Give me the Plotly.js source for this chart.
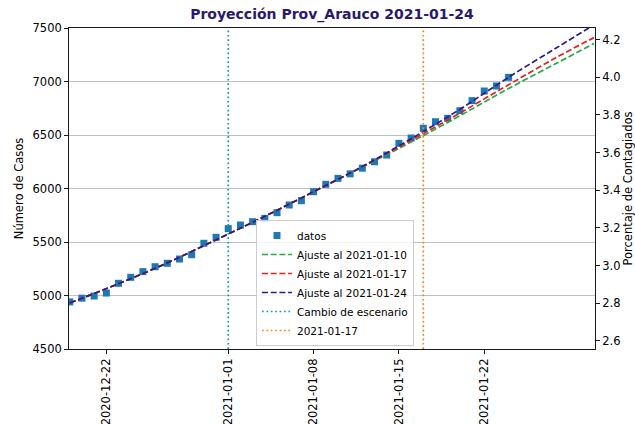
<!DOCTYPE html>
<html><head><meta charset="utf-8">
<script src="https://cdn.plot.ly/plotly-3.0.1.min.js"></script>
<style>html,body{margin:0;padding:0;background:#fff}#chart{width:635px;height:424px}</style>
</head><body><div id="chart"></div>
<script>
// observed cumulative cases
const dates = ['2020-12-19','2020-12-20','2020-12-21','2020-12-22','2020-12-23','2020-12-24','2020-12-25','2020-12-26','2020-12-27','2020-12-28','2020-12-29','2020-12-30','2020-12-31',
  '2021-01-01','2021-01-02','2021-01-03','2021-01-04','2021-01-05','2021-01-06','2021-01-07','2021-01-08','2021-01-09','2021-01-10','2021-01-11','2021-01-12','2021-01-13','2021-01-14','2021-01-15','2021-01-16','2021-01-17','2021-01-18','2021-01-19','2021-01-20','2021-01-21','2021-01-22','2021-01-23','2021-01-24'];
const cases = [4940,4975,4995,5023,5114,5170,5223,5269,5301,5341,5381,5488,5544,
  5625,5659,5690,5721,5774,5846,5886,5970,6039,6095,6137,6190,6250,6313,6422,6472,6563,6624,6656,6727,6821,6911,6958,7039];

// fitted projections
const fitDates = ['2020-12-19','2020-12-23','2020-12-27','2020-12-31','2021-01-04','2021-01-08','2021-01-12','2021-01-16','2021-01-20','2021-01-24','2021-01-28','2021-01-31'];
const fit0110 = [4930,5110,5305,5520,5740,5970,6200,6435,6680,6935,7175,7355];
const fit0117 = [4930,5110,5305,5520,5740,5970,6205,6450,6705,6970,7230,7410];
const fit0124 = [4930,5110,5305,5520,5740,5970,6205,6465,6740,7040,7320,7530];

const changeDate = '2021-01-01';
const refDate = '2021-01-17';
const seriesNames = ['datos','Ajuste al 2021-01-10','Ajuste al 2021-01-17','Ajuste al 2021-01-24','Cambio de escenario','2021-01-17'];

const xTickVals = ['2020-12-22','2021-01-01','2021-01-08','2021-01-15','2021-01-22'];
const xTickText = ['2020-12-22','2021-01-01','2021-01-08','2021-01-15','2021-01-22'];
const yTicks = [4500,5000,5500,6000,6500,7000,7500];
const y2Ticks = [2.6,2.8,3.0,3.2,3.4,3.6,3.8,4.0,4.2];
const population = 176000;
const yRange = [4500,7500];

const FONT = 'DejaVu Sans, Liberation Sans, sans-serif';
const y2Range = yRange.map(v => v / population * 100);

const traces = [
  {x: dates, y: cases, name: seriesNames[0], type: 'scatter', mode: 'markers',
   marker: {symbol: 'square', size: 7, color: '#1f77b4'}},
  {x: fitDates, y: fit0110, name: seriesNames[1], type: 'scatter', mode: 'lines',
   line: {color: '#22aa44', width: 1.7, dash: '6px,2.7px', shape: 'spline'}},
  {x: fitDates, y: fit0117, name: seriesNames[2], type: 'scatter', mode: 'lines',
   line: {color: '#e62020', width: 1.7, dash: '6px,2.7px', shape: 'spline'}},
  {x: fitDates, y: fit0124, name: seriesNames[3], type: 'scatter', mode: 'lines',
   line: {color: '#2e1c8c', width: 1.7, dash: '6px,2.7px', shape: 'spline'}},
  {x: [changeDate, changeDate], y: yRange, name: seriesNames[4], type: 'scatter', mode: 'lines',
   line: {color: '#119aa8', width: 1.7, dash: '1.7px,2.7px'}},
  {x: [refDate, refDate], y: yRange, name: seriesNames[5], type: 'scatter', mode: 'lines',
   line: {color: '#ff7f0e', width: 1.7, dash: '1.7px,2.7px'}},
  {x: dates, y: cases.map(v => v / population * 100), yaxis: 'y2', type: 'scatter', mode: 'markers',
   marker: {opacity: 0}, showlegend: false, hoverinfo: 'skip'}
];

const axisCommon = {
  showline: true, linecolor: '#000', linewidth: 0.9,
  ticks: 'outside', ticklen: 4, tickwidth: 0.9, tickcolor: '#000',
  tickfont: {family: FONT, size: 11.5, color: '#000'}, zeroline: false
};

const layout = {
  width: 635, height: 424,
  margin: {l: 69, r: 40, t: 28, b: 75, pad: 0},
  paper_bgcolor: '#fff', plot_bgcolor: '#fff',
  font: {family: FONT, color: '#000'},
  title: {text: 'Proyección Prov_Arauco 2021-01-24', x: 0.5, xref: 'paper', y: 0.967, yanchor: 'middle',
          font: {family: FONT, size: 14, color: '#2a1870', weight: 'bold'}},
  showlegend: true,
  legend: {x: 0.3555, y: 0.0093, xanchor: 'left', yanchor: 'bottom', bgcolor: 'rgba(255,255,255,0.8)',
           bordercolor: '#cccccc', borderwidth: 1, font: {family: FONT, size: 10.5, color: '#000'}},
  xaxis: Object.assign({}, axisCommon, {
    type: 'date', range: ['2020-12-18 22:30', '2021-01-31 02:00'],
    tickmode: 'array', tickvals: xTickVals, ticktext: xTickText, tickangle: -90,
    showgrid: false, mirror: true, automargin: false
  }),
  yaxis: Object.assign({}, axisCommon, {
    range: yRange, tickmode: 'array', tickvals: yTicks, ticktext: yTicks.map(String),
    showgrid: true, gridcolor: '#b0b0b0', gridwidth: 0.8, automargin: false,
    title: {text: 'Número de Casos', standoff: 6, font: {family: FONT, size: 11.5, color: '#000'}}
  }),
  yaxis2: Object.assign({}, axisCommon, {
    overlaying: 'y', side: 'right', range: y2Range,
    tickmode: 'array', tickvals: y2Ticks, ticktext: y2Ticks.map(v => v.toFixed(1)),
    showgrid: false, automargin: false,
    title: {text: 'Porcentaje de Contagiados', standoff: 4, font: {family: FONT, size: 11.5, color: '#000'}}
  })
};

Plotly.newPlot('chart', traces, layout, {displayModeBar: false, staticPlot: true});
</script>
</body></html>
